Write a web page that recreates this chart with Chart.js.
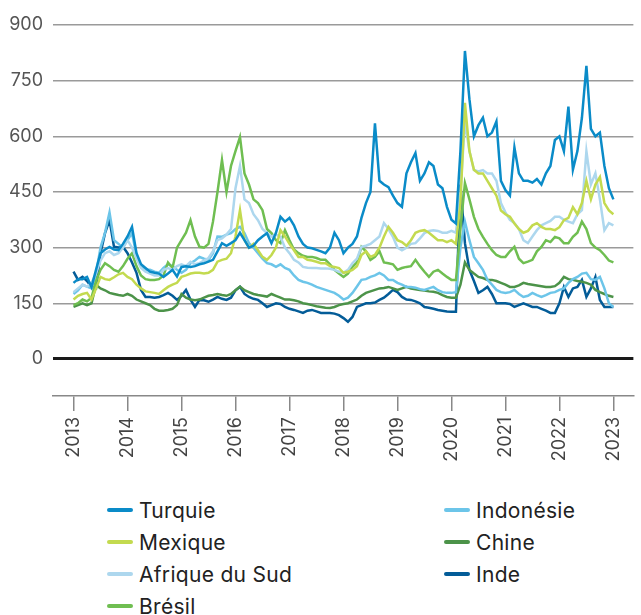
<!DOCTYPE html>
<html>
<head>
<meta charset="utf-8">
<script src="https://cdn.jsdelivr.net/npm/chart.js@4.4.1/dist/chart.umd.min.js"></script>
<style>
  body { margin: 0; background: #fff; font-family: 'Inter', sans-serif; }
  #wrap { position: relative; width: 641px; height: 615px; overflow: hidden; }
  #chart { position: absolute; left: 0; top: 0; }
  #legend {
    position: absolute; left: 107px; top: 494px;
    display: grid; grid-template-columns: 337px 200px; grid-auto-rows: 32px;
  }
  .item { display: flex; align-items: center; font-size: 21px; letter-spacing: 0.3px; color: #222; white-space: nowrap; }
  .swatch { width: 26px; height: 4px; border-radius: 2px; margin-right: 6px; }
</style>
</head>
<body>
<div id="wrap">
  <canvas id="chart" width="641" height="490"></canvas>
  <div id="legend"></div>
</div>
<script>
// =========================
// Data (monthly readings, Jan 2013 - Jan 2023)
// =========================

const months = [
  '2013-01','2013-02','2013-03','2013-04','2013-05','2013-06','2013-07','2013-08','2013-09','2013-10','2013-11','2013-12',
  '2014-01','2014-02','2014-03','2014-04','2014-05','2014-06','2014-07','2014-08','2014-09','2014-10','2014-11','2014-12',
  '2015-01','2015-02','2015-03','2015-04','2015-05','2015-06','2015-07','2015-08','2015-09','2015-10','2015-11','2015-12',
  '2016-01','2016-02','2016-03','2016-04','2016-05','2016-06','2016-07','2016-08','2016-09','2016-10','2016-11','2016-12',
  '2017-01','2017-02','2017-03','2017-04','2017-05','2017-06','2017-07','2017-08','2017-09','2017-10','2017-11','2017-12',
  '2018-01','2018-02','2018-03','2018-04','2018-05','2018-06','2018-07','2018-08','2018-09','2018-10','2018-11','2018-12',
  '2019-01','2019-02','2019-03','2019-04','2019-05','2019-06','2019-07','2019-08','2019-09','2019-10','2019-11','2019-12',
  '2020-01','2020-02','2020-03','2020-04','2020-05','2020-06','2020-07','2020-08','2020-09','2020-10','2020-11','2020-12',
  '2021-01','2021-02','2021-03','2021-04','2021-05','2021-06','2021-07','2021-08','2021-09','2021-10','2021-11','2021-12',
  '2022-01','2022-02','2022-03','2022-04','2022-05','2022-06','2022-07','2022-08','2022-09','2022-10','2022-11','2022-12',
  '2023-01'
];

const turquie = [
  205, 215, 215, 221, 194, 240, 285, 295, 302, 295, 293, 310,
  330, 356, 285, 255, 245, 235, 232, 230, 221, 230, 240, 222,
  248, 250, 248, 250, 255, 258, 262, 267, 290, 312, 305, 312,
  320, 340, 320, 300, 305, 320, 330, 339, 312, 340, 383, 370,
  380, 360, 330, 310, 300, 298, 294, 290, 285, 300, 340, 320,
  285, 300, 310, 330, 380, 420, 450, 635, 480, 470, 463, 440,
  420, 410, 500, 530, 555, 480, 500, 530, 520, 470, 460, 410,
  375, 365, 560, 830, 700, 600, 630, 650, 600, 610, 640, 480,
  455, 440, 570, 500, 480, 480, 475, 485, 470, 500, 520, 590,
  600, 560, 680, 510, 560, 650, 790, 620, 600, 610, 520, 460,
  430
];

const mexique = [
  160, 170, 175, 178, 160, 190, 221, 215, 213, 220, 228, 232,
  221, 215, 200, 190, 182, 180, 178, 175, 185, 194, 200, 205,
  221, 225, 230, 232, 232, 230, 232, 240, 262, 267, 270, 285,
  330, 401, 320, 300, 310, 293, 275, 267, 280, 300, 347, 330,
  310, 293, 275, 275, 267, 265, 262, 258, 258, 250, 248, 245,
  232, 235, 240, 250, 280, 290, 275, 280, 300, 330, 356, 340,
  320, 315, 305, 320, 340, 345, 347, 340, 330, 320, 320, 315,
  320, 310, 420, 690, 560, 510, 500, 500, 480, 460, 440, 400,
  390, 383, 365, 350, 340, 345, 360, 366, 356, 350, 350, 347,
  355, 374, 380, 409, 390, 420, 480, 430, 470, 490, 420, 400,
  390
];

const afriqueDuSud = [
  180, 190, 200, 195, 205, 230, 265, 285, 290, 280, 285, 300,
  320, 300, 270, 245, 235, 230, 225, 225, 240, 245, 240, 250,
  255, 250, 262, 255, 258, 265, 272, 290, 320, 325, 335, 350,
  460, 520, 430, 420, 390, 374, 350, 339, 330, 335, 329, 300,
  285, 267, 260, 248, 246, 245, 245, 244, 244, 243, 240, 235,
  232, 240, 258, 270, 302, 305, 310, 320, 330, 366, 350, 329,
  300, 293, 300, 310, 312, 325, 339, 345, 347, 345, 340, 340,
  345, 340, 450, 640, 560, 509, 505, 509, 500, 500, 480, 420,
  395, 375, 366, 350, 320, 312, 330, 347, 360, 366, 372, 383,
  383, 375, 370, 366, 390, 401, 560, 470, 500, 430, 347, 366,
  360
];

const bresil = [
  145, 150, 160, 155, 165, 210, 240, 258, 250, 240, 235, 250,
  270, 285, 250, 225, 215, 213, 213, 215, 225, 260, 245, 300,
  320, 340, 374, 330, 302, 300, 310, 370, 450, 536, 450, 520,
  560, 598, 500, 470, 430, 420, 401, 350, 339, 320, 312, 347,
  320, 295, 285, 278, 275, 275, 272, 267, 267, 255, 240, 230,
  221, 230, 248, 260, 302, 290, 267, 275, 290, 260, 258, 255,
  240, 245, 248, 250, 267, 250, 235, 221, 235, 240, 230, 221,
  213, 213, 350, 474, 430, 383, 350, 329, 310, 293, 280, 275,
  275, 290, 302, 270, 258, 262, 267, 290, 302, 320, 315, 329,
  325, 312, 312, 329, 340, 370, 350, 312, 300, 293, 280, 265,
  260
];

const indonesie = [
  175, 185, 200, 195, 190, 230, 300, 340, 395, 320, 310, 300,
  320, 339, 280, 250, 240, 240, 235, 232, 245, 255, 250, 240,
  232, 240, 258, 265, 275, 270, 267, 285, 330, 329, 335, 339,
  350, 356, 339, 312, 300, 285, 270, 258, 255, 248, 255, 245,
  240, 225, 213, 208, 205, 200, 194, 190, 186, 182, 178, 170,
  160, 165, 178, 195, 213, 215, 221, 225, 232, 225, 213, 213,
  205, 200, 194, 194, 192, 188, 186, 190, 194, 185, 180, 178,
  178, 180, 300, 370, 320, 275, 258, 240, 213, 200, 186, 180,
  178, 180, 186, 175, 167, 170, 178, 172, 167, 172, 178, 180,
  186, 190, 205, 215, 221, 230, 232, 215, 213, 221, 190, 150,
  140
];

const chine = [
  140, 145, 150, 145, 150, 200, 190, 185, 178, 175, 172, 170,
  175, 170, 160, 155, 150, 145, 135, 130, 130, 132, 135, 145,
  175, 165, 160, 158, 160, 165, 170, 172, 175, 172, 170, 175,
  185, 195, 185, 180, 175, 172, 170, 168, 175, 170, 165, 160,
  160, 158, 155, 150, 148, 145, 142, 140, 138, 137, 140, 145,
  148, 150, 155, 160, 170, 178, 182, 186, 190, 191, 194, 190,
  186, 190, 194, 190, 188, 186, 184, 182, 181, 178, 172, 167,
  165, 165, 200, 260, 240, 230, 221, 218, 213, 213, 210, 205,
  200, 194, 194, 198, 205, 202, 200, 198, 196, 194, 194, 196,
  205, 221, 215, 213, 210, 208, 205, 200, 186, 180, 175, 170,
  167
];

const inde = [
  235, 213, 221, 210, 194, 190, 285, 339, 374, 302, 300, 302,
  285, 260, 232, 186, 167, 167, 165, 167, 172, 178, 170, 159,
  170, 186, 160, 140, 159, 158, 154, 160, 167, 162, 159, 165,
  185, 194, 175, 167, 162, 159, 150, 140, 145, 150, 148, 140,
  135, 132, 128, 124, 130, 132, 128, 124, 124, 124, 122, 118,
  110, 100, 113, 140, 145, 150, 150, 152, 159, 165, 175, 186,
  180, 167, 160, 159, 155, 150, 140, 138, 135, 132, 130, 128,
  127, 127, 470, 312, 240, 210, 178, 185, 194, 175, 150, 150,
  150, 148, 140, 145, 150, 145, 140, 140, 135, 130, 124, 124,
  150, 194, 167, 190, 194, 213, 167, 190, 221, 159, 140, 140,
  140
];

const yearTicks = [2013, 2014, 2015, 2016, 2017, 2018, 2019, 2020, 2021, 2022, 2023];
const valueTicks = [0, 150, 300, 450, 600, 750, 900];

// =========================
// Series (draw order: first one on top)
// =========================

const series = [
  { label: 'Turquie', data: turquie, color: '#0a8bc8' },
  { label: 'Mexique', data: mexique, color: '#c3da4f' },
  { label: 'Afrique du Sud', data: afriqueDuSud, color: '#add7ee' },
  { label: 'Brésil', data: bresil, color: '#6fbe51' },
  { label: 'Indonésie', data: indonesie, color: '#6cc5e9' },
  { label: 'Chine', data: chine, color: '#4c9349' },
  { label: 'Inde', data: inde, color: '#035c98' }
];

const legendOrder = ['Turquie', 'Indonésie', 'Mexique', 'Chine', 'Afrique du Sud', 'Inde', 'Brésil'];

const xs = months.map(m => {
  const [y, mo] = m.split('-');
  return Number(y) + (Number(mo) - 1) / 12;
});

const tickFont = { family: 'Inter', size: 18 };

new Chart(document.getElementById('chart'), {
  type: 'line',
  data: {
    datasets: series.map(s => ({
      label: s.label,
      data: s.data.map((v, i) => ({ x: xs[i], y: v })),
      borderColor: s.color,
      backgroundColor: s.color,
      borderWidth: 2.5,
      pointRadius: 0,
      tension: 0,
      fill: false
    }))
  },
  options: {
    responsive: false,
    animation: false,
    layout: { autoPadding: false, padding: { top: 25, right: 0, bottom: 0, left: 0 } },
    plugins: {
      legend: { display: false },
      tooltip: { enabled: false }
    },
    scales: {
      x: {
        type: 'linear',
        min: 2012.62,
        max: 2023.37,
        afterBuildTicks: s => { s.ticks = yearTicks.map(v => ({ value: v })); },
        afterFit: s => { s.height = 94; },
        ticks: {
          autoSkip: false,
          minRotation: 90,
          maxRotation: 90,
          padding: 6,
          color: '#444',
          font: tickFont,
          callback: v => String(v)
        },
        grid: { drawOnChartArea: false, tickLength: 15, color: '#888', lineWidth: 1.5 },
        border: { color: '#888', width: 1.5 }
      },
      y: {
        min: -100,
        max: 900,
        afterBuildTicks: s => { s.ticks = valueTicks.map(v => ({ value: v })); },
        afterFit: s => { s.width = 53; },
        ticks: {
          padding: 10,
          color: '#555',
          font: tickFont,
          callback: v => String(v)
        },
        grid: {
          drawTicks: false,
          color: c => (c.tick && c.tick.value === 0) ? '#1a1a1a' : '#9a9a9a',
          lineWidth: c => (c.tick && c.tick.value === 0) ? 3 : 1.5
        },
        border: { display: false }
      }
    }
  }
});

// =========================
// Legend (two columns)
// =========================

const legendEl = document.getElementById('legend');
legendOrder.forEach(name => {
  const s = series.find(d => d.label === name);
  const item = document.createElement('div');
  item.className = 'item';
  item.innerHTML = '<span class="swatch" style="background:' + s.color + '"></span>' + s.label;
  legendEl.appendChild(item);
});
</script>
</body>
</html>
